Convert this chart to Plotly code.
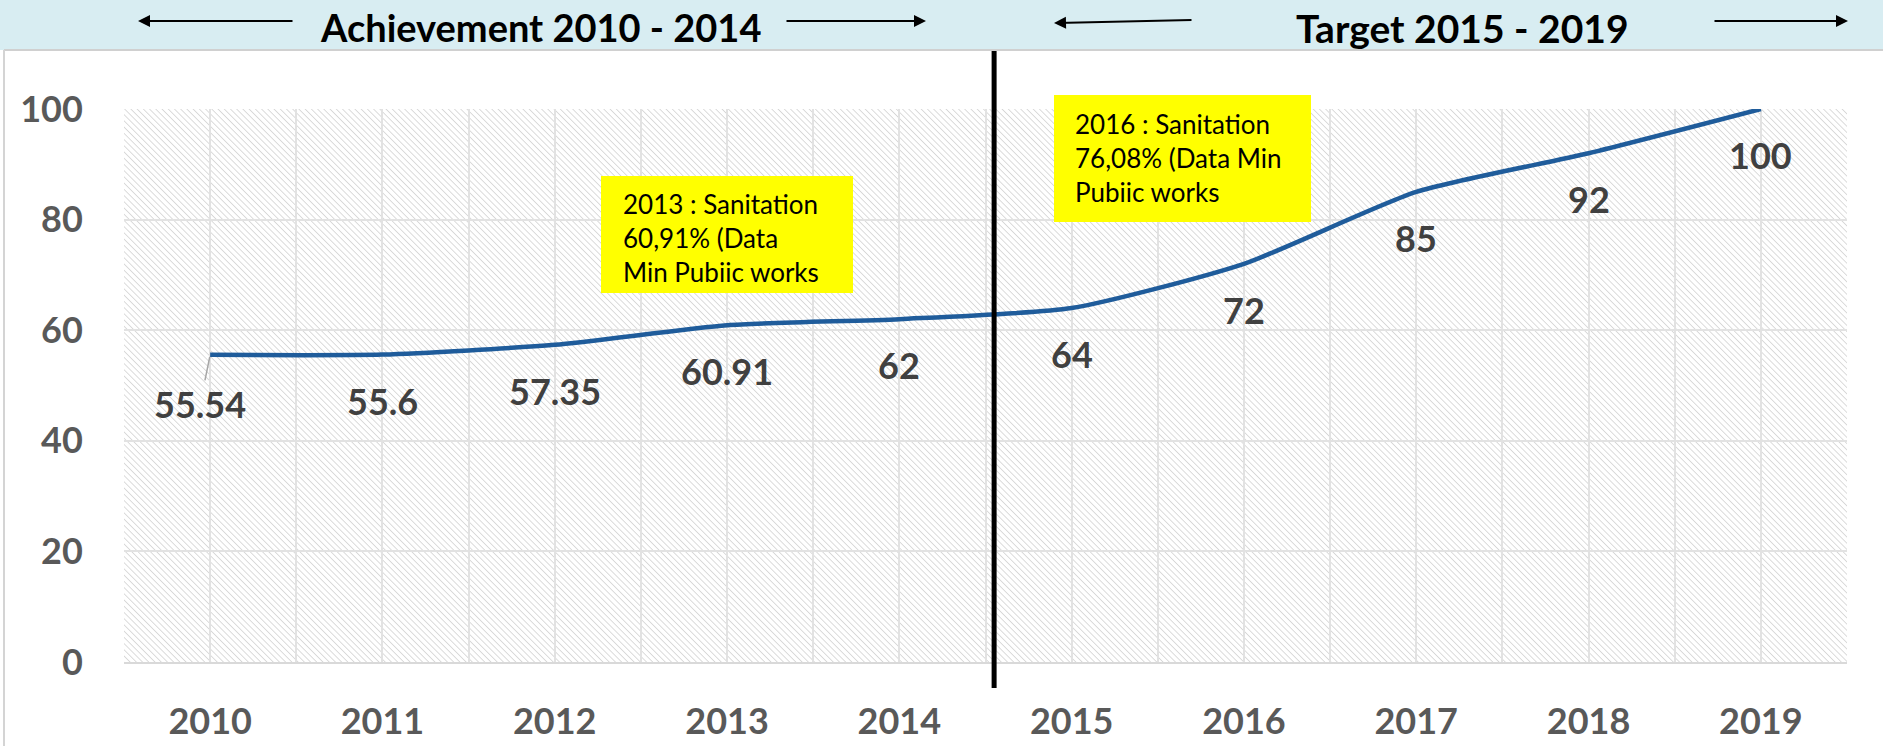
import base64
import plotly.graph_objects as go

# ---- data ----
years = [2010, 2011, 2012, 2013, 2014, 2015, 2016, 2017, 2018, 2019]
values = [55.54, 55.6, 57.35, 60.91, 62, 64, 72, 85, 92, 100]
value_labels = ["55.54", "55.6", "57.35", "60.91", "62", "64", "72", "85", "92", "100"]
y_ticks = [0, 20, 40, 60, 80, 100]
period_titles = ["Achievement 2010 - 2014", "Target 2015 - 2019"]
note_2013 = ["2013 : Sanitation", "60,91% (Data", "Min Pubiic works"]
note_2016 = ["2016 : Sanitation", "76,08% (Data Min", "Pubiic works"]

W, H = 1883, 746
L, R, T, B = 124, 36, 109, 84
PW, PH = W - L - R, H - T - B


def px(X):
    return (X - L) / PW


def py(Y):
    return (H - B - Y) / PH


FONT = "Lato"
fig = go.Figure()

fig.add_trace(go.Scatter(
    x=years, y=values, mode="lines",
    line=dict(color="#1f5c9b", width=4.5, shape="spline", smoothing=0.6),
    hoverinfo="skip", showlegend=False,
))

# data labels under the points
lab_font = dict(family=FONT, size=36, color="#404040", weight="bold")
for i, (xv, yv, t) in enumerate(zip(years, values, value_labels)):
    if i == 0:
        fig.add_annotation(x=xv, y=yv, text=t, showarrow=True, arrowhead=0,
                           arrowwidth=1.5, arrowcolor="#a6a6a6", ax=-10, ay=49,
                           standoff=2, xanchor="center", yanchor="middle", font=lab_font)
    else:
        fig.add_annotation(x=xv, y=yv, text=t, showarrow=False, yshift=-46,
                           xanchor="center", yanchor="middle", font=lab_font)

# hatched plot-area background (SVG image)
svg = (
    f'<svg xmlns="http://www.w3.org/2000/svg" width="{PW}" height="{PH}">'
    '<defs><pattern id="h" width="4.4" height="4.4" patternUnits="userSpaceOnUse" '
    'patternTransform="rotate(-45)">'
    '<line x1="0" y1="0" x2="0" y2="4.4" stroke="#c9c9c9" stroke-width="1.3"/>'
    '</pattern></defs>'
    '<rect width="100%" height="100%" fill="white"/>'
    '<rect width="100%" height="100%" fill="url(#h)"/></svg>'
)
uri = "data:image/svg+xml;base64," + base64.b64encode(svg.encode()).decode()
fig.add_layout_image(dict(source=uri, xref="paper", yref="paper", x=0, y=1,
                          sizex=1, sizey=1, xanchor="left", yanchor="top",
                          sizing="stretch", layer="below"))

# top band
fig.add_shape(type="rect", xref="paper", yref="paper", x0=px(-5), x1=px(W + 5),
              y0=py(50), y1=py(-5), fillcolor="#d8edf2", line=dict(width=0), layer="below")
fig.add_shape(type="line", xref="paper", yref="paper", x0=px(4), x1=px(W + 5),
              y0=py(50), y1=py(50), line=dict(color="#d0d0d0", width=2))
fig.add_shape(type="line", xref="paper", yref="paper", x0=px(4), x1=px(4),
              y0=py(50), y1=py(H + 5), line=dict(color="#d4d4d4", width=2))

# divider line between achievement and target
fig.add_shape(type="line", xref="x", yref="paper", x0=2014.55, x1=2014.55,
              y0=py(688), y1=py(51), line=dict(color="black", width=5))

# period titles
fig.add_annotation(xref="paper", yref="paper", x=px(540), y=py(27), text=f"<b>{period_titles[0]}</b>",
                   showarrow=False, xanchor="center", yanchor="middle",
                   font=dict(family=FONT, size=38, color="black"))
fig.add_annotation(xref="paper", yref="paper", x=px(1462), y=py(28), text=f"<b>{period_titles[1]}</b>",
                   showarrow=False, xanchor="center", yanchor="middle",
                   font=dict(family=FONT, size=39, color="black"))

# arrows
for (tip_x, tip_y, dx, dy) in [(138, 21, 156, 0), (926, 21, -141, 0),
                                (1054, 23, 139, -3), (1848, 21, -135, 0)]:
    fig.add_annotation(xref="paper", yref="paper", x=px(tip_x), y=py(tip_y), ax=dx, ay=dy,
                       text="", showarrow=True, arrowhead=2, arrowsize=1.2,
                       arrowwidth=2, arrowcolor="black", standoff=0)

# yellow notes
for (x0, x1, y0, y1, tx, ty, lines) in [(601, 853, 176, 293, 621, 238, note_2013),
                                         (1054, 1311, 95, 222, 1073, 158, note_2016)]:
    fig.add_shape(type="rect", xref="paper", yref="paper", x0=px(x0), x1=px(x1),
                  y0=py(y1), y1=py(y0), fillcolor="#ffff00", line=dict(width=0))
    fig.add_annotation(xref="paper", yref="paper", x=px(tx), y=py(ty), xanchor="left",
                       yanchor="middle", align="left", text="<br>".join(lines),
                       showarrow=False, font=dict(family=FONT, size=26, color="black"))

tick_font = dict(family=FONT, size=36, color="#595959", weight="bold")
fig.update_layout(
    width=W, height=H, margin=dict(l=L, r=R, t=T, b=B, autoexpand=False),
    paper_bgcolor="white", plot_bgcolor="rgba(0,0,0,0)", showlegend=False,
    xaxis=dict(range=[2009.5, 2019.5], tickmode="array", tickvals=years,
               ticktext=[str(y) for y in years],
               showgrid=True, gridcolor="#e2e2e2", gridwidth=1.5,
               minor=dict(tickmode="linear", tick0=2009.5, dtick=1, showgrid=True,
                          gridcolor="#e2e2e2", gridwidth=1.5),
               showline=True, linecolor="#d9d9d9", linewidth=2,
               ticks="outside", ticklen=27, tickcolor="rgba(0,0,0,0)",
               tickfont=tick_font, zeroline=False, fixedrange=True),
    yaxis=dict(range=[0, 100], tickmode="array", tickvals=y_ticks,
               showgrid=True, gridcolor="#e2e2e2", gridwidth=1.5, zeroline=False,
               ticks="outside", ticklen=33, tickcolor="rgba(0,0,0,0)",
               tickfont=tick_font, fixedrange=True),
)

fig.write_html("out.html")
